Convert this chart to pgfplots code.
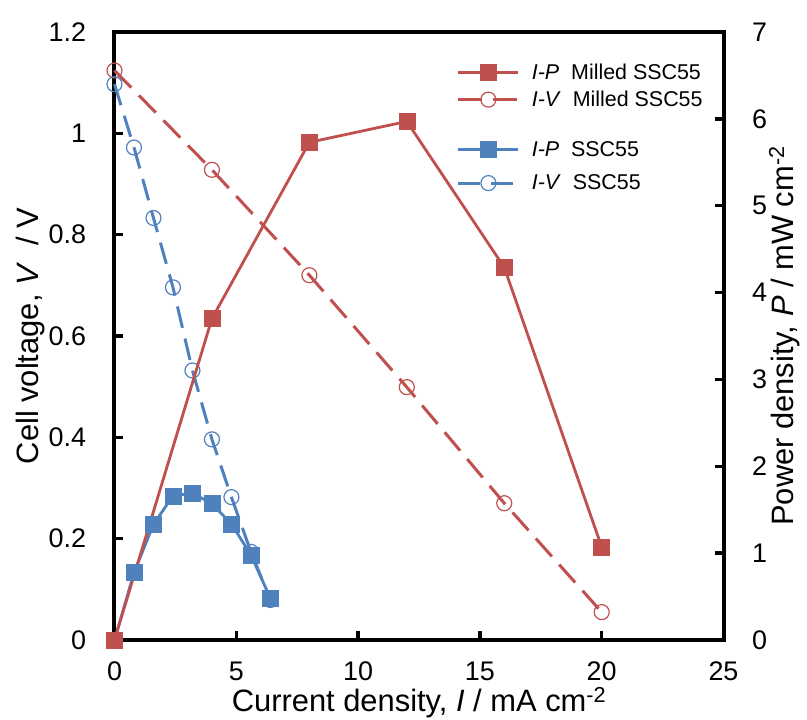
\documentclass[border=0pt]{standalone}
\usepackage{fontspec}
\setmainfont{Liberation Sans}
\usepackage{pgfplots}
\pgfplotsset{compat=1.18}
\definecolor{cred}{HTML}{C0504D}
\definecolor{cblue}{HTML}{4F81BD}
\pgfplotsset{
  redP/.style={cred, solid, line width=2.8bp, mark=square*, mark size=8bp, mark options={solid, fill=cred, line width=0.5bp}},
  redV/.style={cred, line width=3bp, dash pattern=on 24bp off 11bp, mark=o, mark size=7.5bp, mark options={solid, fill=white, line width=1.2bp}},
  blueP/.style={cblue, solid, line width=2.8bp, mark=square*, mark size=8bp, mark options={solid, fill=cblue, line width=0.5bp}},
  blueV/.style={cblue, line width=3bp, dash pattern=on 22bp off 11bp, mark=o, mark size=7.5bp, mark options={solid, fill=white, line width=1.2bp}},
  common/.style={
    scale only axis, width=609bp, height=608bp,
    xmin=0, xmax=25, clip=false,
    axis line style={line width=4bp, line cap=rect},
    tick style={line width=3.5bp, black},
    major tick length=9bp, tick align=inside,
    tick label style={font=\fontsize{27}{32}\selectfont},
    label style={font=\fontsize{31}{36}\selectfont},
    /pgf/number format/assume math mode=true,
    legend cell align=left,
    legend image code/.code={\draw[mark repeat=2,mark phase=2,##1] plot coordinates {(0bp,0bp) (30bp,0bp) (60bp,0bp)};},
  },
}
\begin{document}
\begin{tikzpicture}
\path[use as bounding box] (-114.5bp,-80bp) rectangle (692.5bp,640bp);
\begin{axis}[common,
  ymin=0, ymax=1.2,
  xtick={0,5,10,15,20,25}, xtick pos=bottom,
  ytick={0,0.2,0.4,0.6,0.8,1,1.2}, yticklabels={0,0.2,0.4,0.6,0.8,1,1.2}, ytick pos=left,
  xticklabel style={inner sep=0pt, yshift=-22bp},
  yticklabel style={xshift=-25bp},
  xlabel={Current density, \textit{I} / mA cm\textsuperscript{-2}},
  ylabel={Cell voltage, \textit{V}\ \ / V},
  xlabel style={at={(rel axis cs:0.5,0)}, anchor=north, inner sep=0pt, yshift=-47bp},
  ylabel style={at={(rel axis cs:0,0.5)}, anchor=south, yshift=66bp},
  legend style={draw=none, fill=none, at={(rel axis cs:0.557,0.911)}, anchor=west,
    font=\fontsize{21.5}{25}\selectfont, row sep=6bp,
    /tikz/every odd column/.append style={column sep=10bp}},
]
\addlegendimage{redP}
\addlegendentry{\textit{I-P}\ \ Milled SSC55}
\addplot[redV] coordinates {(0,1.124) (4,0.928) (8,0.720) (12,0.499) (16,0.270) (20,0.055)};
\addlegendentry{\textit{I-V}\ \ Milled SSC55}
\addplot[blueV, forget plot] coordinates {(0,1.097) (0.8,0.972) (1.6,0.833) (2.4,0.696) (3.2,0.532) (4,0.396) (4.8,0.282) (5.6,0.174) (6.4,0.079)};
\end{axis}
\begin{axis}[common,
  ymin=0, ymax=7,
  axis x line=none, axis y line*=right,
  ytick={0,1,2,3,4,5,6,7},
  yticklabel style={xshift=25bp},
  ylabel={Power density, \textit{P} / mW cm\textsuperscript{-2}},
  ylabel style={at={(rel axis cs:1,0.5)}, anchor=north, yshift=-42bp},
  legend style={draw=none, fill=none, at={(rel axis cs:0.557,0.779)}, anchor=west,
    font=\fontsize{21.5}{25}\selectfont, row sep=13bp,
    /tikz/every odd column/.append style={column sep=10bp}},
]
\addplot[blueP] coordinates {(0,0) (0.8,0.775) (1.6,1.33) (2.4,1.66) (3.2,1.69) (4,1.57) (4.8,1.335) (5.6,0.98) (6.4,0.48)};
\addlegendentry{\textit{I-P}\ \ SSC55}
\addlegendimage{blueV}
\addlegendentry{\textit{I-V}\ \ SSC55}
\addplot[redP, forget plot] coordinates {(0,0) (4,3.70) (8,5.73) (12,5.97) (16,4.29) (20,1.07)};
\end{axis}
\end{tikzpicture}
\end{document}
